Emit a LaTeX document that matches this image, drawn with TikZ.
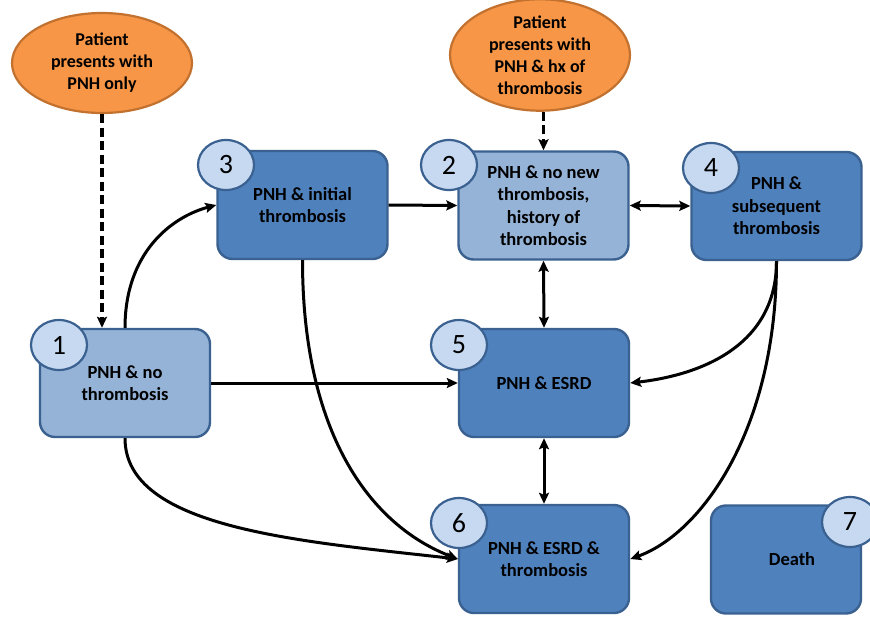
\documentclass[tikz,border=0pt]{standalone}
\usepackage{fontspec}
\setmainfont{Carlito}
\usetikzlibrary{shapes.geometric,arrows.meta}
\definecolor{darkbox}{HTML}{4F81BD}
\definecolor{lightbox}{HTML}{95B3D7}
\definecolor{boxline}{HTML}{3A6190}
\definecolor{numfill}{HTML}{C6D9F1}
\definecolor{orangefill}{HTML}{F79646}
\definecolor{orangeline}{HTML}{C2712F}
\tikzset{
  state/.style={draw=boxline, line width=2.4pt, rounded corners=15pt, minimum width=170pt, minimum height=108pt,
    align=center, font=\fontsize{18.5}{22.5}\selectfont\bfseries, inner sep=0pt},
  darkstate/.style={state, fill=darkbox},
  lightstate/.style={state, fill=lightbox},
  numcirc/.style={ellipse, draw=boxline, line width=2.2pt, fill=numfill, minimum width=56pt, minimum height=50pt,
    inner sep=0pt, font=\fontsize{28}{28}\selectfont},
  startell/.style={ellipse, draw=orangeline, line width=2.2pt, fill=orangefill, minimum width=180pt, minimum height=100pt,
    inner sep=0pt, align=center, font=\fontsize{18}{22}\selectfont\bfseries},
  tip/.tip={Stealth[length=11pt,width=10pt,inset=2pt]},
  conn/.style={line width=3pt, -tip},
  biconn/.style={line width=3pt, tip-tip},
  dashconn/.style={line width=3.2pt, dash pattern=on 9pt off 4.5pt, -tip}
}
\begin{document}
\begin{tikzpicture}[x=1pt,y=-1pt]
\useasboundingbox (0,0) rectangle (870,616);
% start ellipses
\node[startell] (e1) at (102,63) {Patient\\presents with\\PNH only};
\node[startell, minimum height=98pt] (e2) at (540,55) {Patient\\presents with\\PNH \& hx of\\thrombosis};
% states
\node[darkstate] (b3) at (302.5,205) {PNH \& initial\\thrombosis};
\node[lightstate] (b2) at (543.5,205.5) {PNH \& no new\\thrombosis,\\history of\\thrombosis};
\node[darkstate] (b4) at (776.5,206) {PNH \&\\subsequent\\thrombosis};
\node[lightstate] (b1) at (125,383) {PNH \& no\\thrombosis};
\node[darkstate] (b5) at (544,383) {PNH \& ESRD};
\node[darkstate] (b6) at (544,559) {PNH \& ESRD \&\\thrombosis};
\node[darkstate, minimum width=150pt] (b7) at (786,559.5) {\hspace*{12pt}Death};
% number circles
\node[numcirc] (n3) at (226,165) {3};
\node[numcirc] (n2) at (449,165) {2};
\node[numcirc] (n4) at (711,168) {4};
\node[numcirc] (n1) at (59,345) {1};
\node[numcirc] (n5) at (459,345) {5};
\node[numcirc] (n6) at (459,523) {6};
\node[numcirc] (n7) at (850,522) {7};
% connectors
\draw[dashconn] (e1.south) -- (b1.north -| e1.south);
\draw[dashconn] (e2.south -| b2.north) -- (b2.north);
\draw[conn] (b1.north) .. controls +(0,-75) and +(-45,12) .. (b3.west);
\draw[conn] (b3.east) -- (b2.west);
\draw[biconn] (b2.east) -- (b4.west);
\draw[biconn] (b2.south) -- (b5.north);
\draw[biconn] (b5.south) -- (b6.north);
\draw[conn] (b1.east) -- (b5.west);
\draw[conn] (b1.south) .. controls +(0,90) and +(-160,-18) .. (b6.west);
\draw[conn] (b3.south) .. controls +(0,170) and +(-90,-35) .. (b6.west);
\draw[conn] (b4.south) .. controls +(0,85) and +(70,-8) .. (b5.east);
\draw[conn] (b4.south) .. controls +(0,170) and +(70,-25) .. (b6.east);
\end{tikzpicture}
\end{document}
